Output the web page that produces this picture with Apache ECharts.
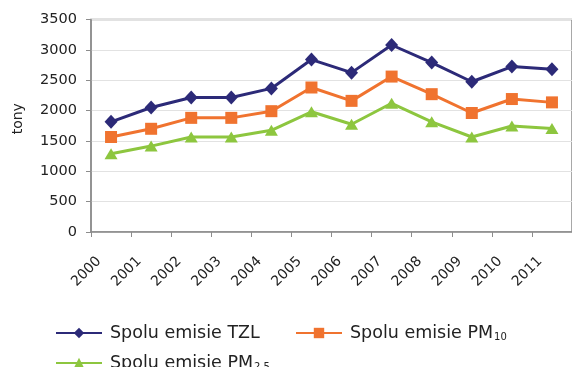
<!DOCTYPE html>
<html>
<head>
<meta charset="utf-8">
<script src="https://cdn.jsdelivr.net/npm/echarts@6/dist/echarts.min.js"></script>
<style>
  html, body { margin: 0; padding: 0; background: #ffffff; }
  #chart { width: 572px; height: 367px; }
</style>
</head>
<body>
<div id="chart"></div>
<script>
// Years on the category axis
const years = ['2000', '2001', '2002', '2003', '2004', '2005', '2006', '2007', '2008', '2009', '2010', '2011'];

// Total emissions in tonnes
const tzl  = [1815, 2050, 2215, 2215, 2365, 2840, 2625, 3080, 2790, 2475, 2725, 2680];
const pm10 = [1565, 1700, 1880, 1880, 1990, 2380, 2160, 2560, 2270, 1960, 2190, 2135];
const pm25 = [1290, 1415, 1565, 1565, 1675, 1980, 1775, 2120, 1815, 1565, 1745, 1705];

const seriesNames = ['Spolu emisie TZL', 'Spolu emisie PM10', 'Spolu emisie PM2.5'];
const yAxisTitle = 'tony';

const FONT = 'DejaVu Sans';
const TEXT = '#222222';
const AXIS = '#8c8c8c';

// Legend text with PM subscripts
function legendLabel(name) {
  if (name === 'Spolu emisie PM10') return 'Spolu emisie PM{sub|10}';
  if (name === 'Spolu emisie PM2.5') return 'Spolu emisie PM{sub|2.5}';
  return name;
}

function makeLegend(name, left, top) {
  return {
    data: [name],
    left: left,
    top: top,
    orient: 'horizontal',
    itemWidth: 46,
    itemHeight: 13,
    formatter: legendLabel,
    textStyle: {
      fontFamily: FONT,
      fontSize: 17.5,
      color: TEXT,
      padding: [0, 0, 0, 3],
      rich: {
        sub: { fontFamily: FONT, fontSize: 10, color: TEXT, padding: [9, 0, 0, 1] }
      }
    }
  };
}

const chart = echarts.init(document.getElementById('chart'), null, { renderer: 'canvas' });

chart.setOption({
  animation: false,
  backgroundColor: '#ffffff',
  grid: {
    left: 91, right: -3, top: 19.5, bottom: 135,
    show: true, borderColor: AXIS, borderWidth: 1.5, containLabel: false
  },
  legend: [
    makeLegend(seriesNames[0], 50, 319),
    makeLegend(seriesNames[1], 290, 319),
    makeLegend(seriesNames[2], 50, 349)
  ],
  xAxis: {
    type: 'category',
    data: years,
    boundaryGap: true,
    axisLine: { lineStyle: { color: AXIS, width: 1.5 } },
    axisTick: { show: true, length: 5, alignWithLabel: false, lineStyle: { color: AXIS } },
    axisLabel: {
      interval: 0, rotate: 45, margin: 15,
      fontFamily: FONT, fontSize: 14, color: TEXT,
      padding: [0, 17, 0, 0]
    },
    splitLine: { show: false }
  },
  yAxis: {
    type: 'value',
    min: 0, max: 3500, interval: 500,
    name: yAxisTitle,
    nameLocation: 'middle',
    nameGap: 66,
    nameTextStyle: { fontFamily: FONT, fontSize: 14, color: TEXT, padding: [0, 0, 0, 14] },
    axisLine: { show: true, lineStyle: { color: AXIS, width: 1.5 } },
    axisTick: { show: true, length: 5, lineStyle: { color: AXIS } },
    axisLabel: {
      margin: 14, fontFamily: FONT, fontSize: 14.5, color: TEXT,
      formatter: function (v) { return String(v); }
    },
    splitLine: { show: true, lineStyle: { color: '#e2e2e2', width: 1 } }
  },
  series: [
    {
      name: seriesNames[0], type: 'line', data: tzl,
      symbol: 'diamond', symbolSize: [13, 14],
      color: '#2c2a78',
      lineStyle: { width: 3, color: '#2c2a78' },
      itemStyle: { color: '#2c2a78' }
    },
    {
      name: seriesNames[1], type: 'line', data: pm10,
      symbol: 'rect', symbolSize: [12, 12],
      color: '#f0732f',
      lineStyle: { width: 3, color: '#f0732f' },
      itemStyle: { color: '#f0732f' }
    },
    {
      name: seriesNames[2], type: 'line', data: pm25,
      symbol: 'triangle', symbolSize: [13, 11],
      color: '#8dc63f',
      lineStyle: { width: 3, color: '#8dc63f' },
      itemStyle: { color: '#8dc63f' }
    }
  ]
});
</script>
</body>
</html>
